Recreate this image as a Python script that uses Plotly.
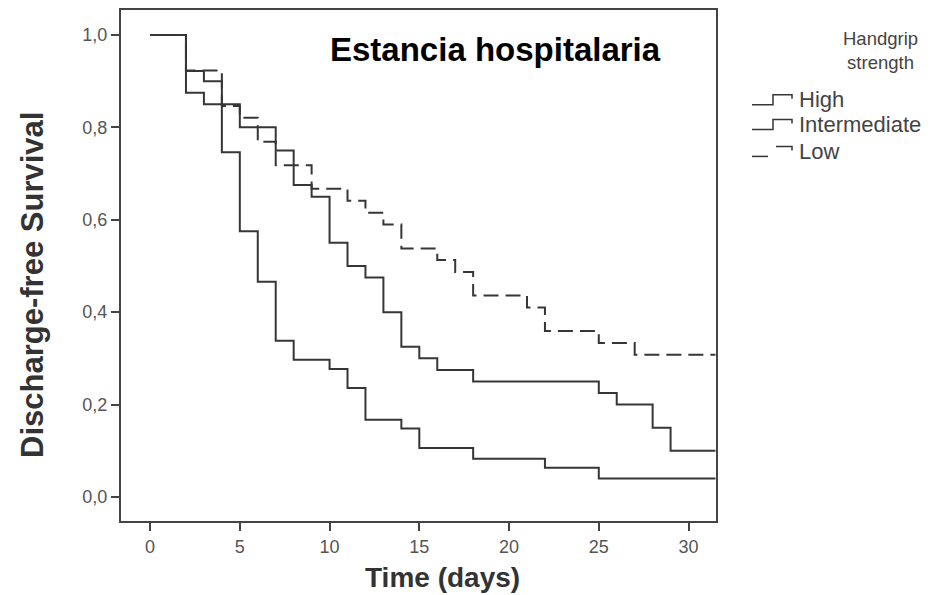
import plotly.graph_objects as go

# Kaplan-Meier step data (days, discharge-free survival)
time_high = [0, 2, 3, 4, 5, 6, 7, 8, 10, 11, 12, 14, 15, 18, 22, 25, 31.5]
surv_high = [1.0, 0.922, 0.90, 0.746, 0.575, 0.466, 0.338, 0.297, 0.277, 0.236, 0.167,
             0.148, 0.106, 0.083, 0.063, 0.040, 0.040]

time_int = [0, 2, 3, 5, 7, 8, 9, 10, 11, 12, 13, 14, 15, 16, 18, 25, 26, 28, 29, 31.5]
surv_int = [1.0, 0.875, 0.85, 0.80, 0.75, 0.675, 0.65, 0.55, 0.50, 0.475, 0.40, 0.325,
            0.30, 0.275, 0.25, 0.225, 0.20, 0.15, 0.10, 0.10]

time_low = [0, 2, 4, 5, 6, 7, 9, 11, 12, 13, 14, 16, 17, 18, 21, 22, 25, 27, 31.5]
surv_low = [1.0, 0.923, 0.846, 0.821, 0.769, 0.718, 0.667, 0.641, 0.615, 0.590, 0.538,
            0.513, 0.487, 0.436, 0.410, 0.359, 0.333, 0.308, 0.308]

group_names = ["High", "Intermediate", "Low"]
x_ticks = [0, 5, 10, 15, 20, 25, 30]
y_ticks = [0.0, 0.2, 0.4, 0.6, 0.8, 1.0]
y_tick_text = ["0,0", "0,2", "0,4", "0,6", "0,8", "1,0"]

W, H = 946, 595
ML, MR, MT, MB = 121, 230, 8, 74
PW, PH = W - ML - MR, H - MT - MB


def px(x):
    return (x - ML) / PW


def py(y):
    return (H - MB - y) / PH


LINE = "#363636"
FONT = "Liberation Sans, Arial, sans-serif"

fig = go.Figure()
series = [(time_high, surv_high, "solid"), (time_int, surv_int, "solid"), (time_low, surv_low, "15px,7px")]
for (t, s, dash), name in zip(series, group_names):
    fig.add_trace(go.Scatter(x=t, y=s, mode="lines", name=name, line_shape="hv",
                             line=dict(color=LINE, width=2, dash=dash), showlegend=False))

fig.update_layout(
    width=W, height=H,
    margin=dict(l=ML, r=MR, t=MT, b=MB),
    paper_bgcolor="white", plot_bgcolor="white",
    font=dict(family=FONT, color="#333"),
    xaxis=dict(range=[-1.62, 31.53], tickvals=x_ticks, ticks="outside", ticklen=8, tickwidth=1.5,
               tickcolor="#444", showline=True, linecolor="#444", linewidth=2, mirror=True,
               showgrid=False, zeroline=False, tickfont=dict(size=18, color="#555")),
    yaxis=dict(range=[-0.052, 1.054], tickvals=y_ticks, ticktext=y_tick_text, ticks="outside",
               ticklen=8, tickwidth=1.5, tickcolor="#444", showline=True, linecolor="#444",
               linewidth=2, mirror=True, showgrid=False, zeroline=False,
               tickfont=dict(size=18, color="#555")),
)

annotations = [
    dict(text="<b>Estancia hospitalaria</b>", x=px(495), y=py(48), font=dict(size=33, color="#000")),
    dict(text="<b>Time (days)</b>", x=px(442), y=py(578), font=dict(size=28, color="#333")),
    dict(text="<b>Discharge-free Survival</b>", x=px(33), y=py(284), textangle=-90,
         font=dict(size=31, color="#333")),
    dict(text="Handgrip<br>strength", x=px(880), y=py(49), font=dict(size=18.5, color="#444")),
]
for a in annotations:
    a.update(xref="paper", yref="paper", showarrow=False, xanchor="center", yanchor="middle")
    fig.add_annotation(**a)

# custom legend with step-shaped icons
legend_y = [98, 123, 150]
for name, yc, (_, _, dash) in zip(group_names, legend_y, series):
    fig.add_annotation(text=name, x=px(797), y=py(yc), xref="paper", yref="paper", showarrow=False,
                       xanchor="left", yanchor="middle", font=dict(size=22, color="#444"))
    lo, hi = yc + 5, yc - 5
    if dash == "solid":
        path = (f"M {px(752)},{py(lo)} L {px(773)},{py(lo)} L {px(773)},{py(hi)} "
                f"L {px(792)},{py(hi)} L {px(792)},{py(hi + 4)}")
        fig.add_shape(type="path", path=path, xref="paper", yref="paper",
                      line=dict(color=LINE, width=1.5))
    else:
        fig.add_shape(type="line", x0=px(752), x1=px(768), y0=py(lo), y1=py(lo), xref="paper",
                      yref="paper", line=dict(color=LINE, width=1.5))
        path = f"M {px(776)},{py(hi)} L {px(792)},{py(hi)} L {px(792)},{py(hi + 4)}"
        fig.add_shape(type="path", path=path, xref="paper", yref="paper",
                      line=dict(color=LINE, width=1.5))

fig.write_html("out.html")
